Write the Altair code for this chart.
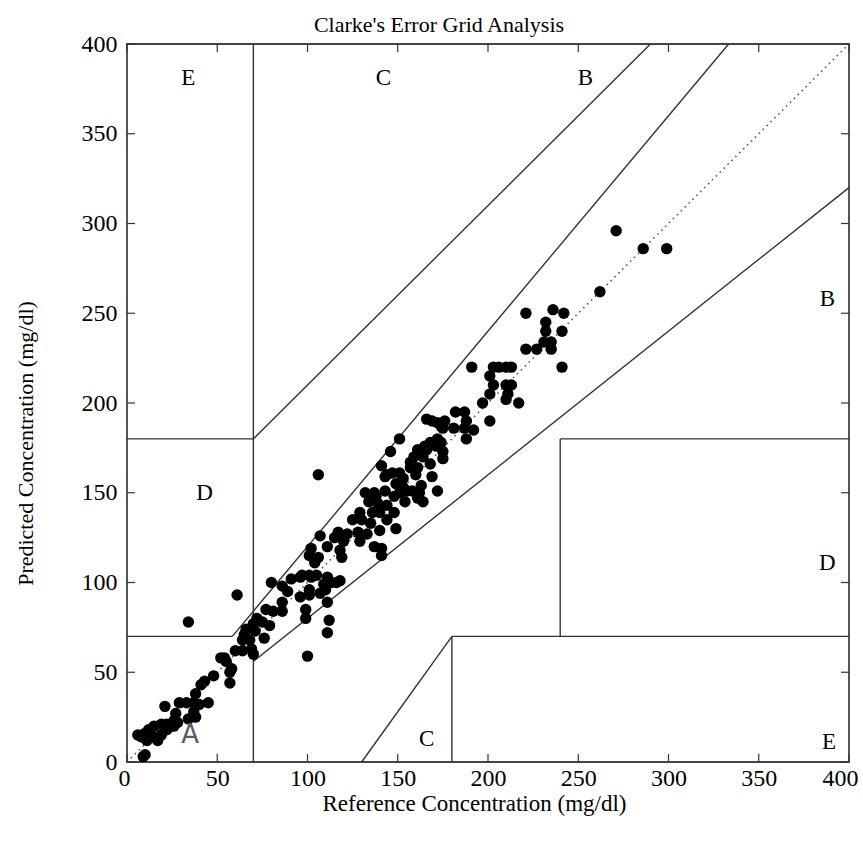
import altair as alt
import pandas as pd

# ---- data ----
ref_vals = [271,286,299,262,221,236,242,232,232,241,231,235,221,227,235,241,191,203,206,210,213,
            201,203,210,213,201,211,210,217,197,201,182,187,176,188,175,181,187,192,188,166,172,172,168,174,
            151,165,171,146,161,159,164,175,175,141,157,161,168,147,151,143,153,149,153,163,132,137,143,151,
            158,162,106,144,138,148,134,139,144,129,136,140,125,130,144,135,149,117,122,128,133,140,107,115,
            120,129,102,111,118,137,141,101,119,106,141,91,97,102,111,118,113,61,80,86,96,101,105,104,116,
            89,96,101,107,86,111,77,81,86,99,99,112,111,72,70,75,79,66,71,76,65,64,68,60,64,69,70,54,52,55,
            58,100,57,57,48,43,41,38,45,40,21,29,33,37,27,37,34,38,26,15,19,22,26,28,13,19,8,11,17,10,14,6,
            12,22,24,9,10,34,109,110,101,169,174,157,166,160,169,172,161,164,155,154,148]
pred_vals = [296,286,286,262,250,252,250,245,240,240,234,234,230,230,230,220,220,220,220,220,220,
             215,210,210,210,205,205,202,200,200,190,195,195,190,190,186,186,186,185,180,191,189,180,178,178,
             180,176,176,173,174,170,170,173,169,165,164,164,166,161,161,159,158,155,153,154,150,150,151,150,
             151,150,160,160,148,148,145,144,143,139,139,139,135,135,135,133,130,128,127,128,127,129,126,125,
             123,123,119,120,118,120,119,115,114,114,115,102,104,103,103,101,100,93,100,98,103,104,104,111,100,
             95,92,93,94,89,89,85,84,84,85,80,79,72,80,77,78,76,74,73,69,71,68,68,62,62,63,60,58,58,56,
             52,59,50,44,48,45,43,38,33,32,31,33,33,33,27,28,24,25,23,20,21,21,20,22,17,15,14,12,12,16,14,15,
             18,18,20,3,4,78,99,96,96,190,187,167,174,160,159,151,147,145,151,145,139]

seg_x1 = [0, 175/3, 70, 0, 70, 70, 180, 180, 240, 240, 130]
seg_y1 = [70, 70, 0, 180, 180, 56, 0, 70, 70, 180, 0]
seg_x2 = [175/3, 400/1.2, 70, 70, 290, 400, 180, 400, 240, 400, 180]
seg_y2 = [70, 400, 400, 180, 400, 320, 70, 70, 180, 180, 70]

zone_labels = ["E", "C", "B", "B", "D", "D", "C", "E"]
zone_x = [34, 142, 254, 388, 43, 388, 166, 389]
zone_y = [381, 381, 381, 258, 150, 111, 13, 11]

a_label = ["A"]
a_x = [35]
a_y = [15]

tick_vals = [0, 50, 100, 150, 200, 250, 300, 350, 400]
diag = [0, 400]

# ---- chart ----
W, H = 722, 718
FONT = "Liberation Serif"
LC = "#333333"
XT = "Reference Concentration (mg/dl)"
YT = "Predicted Concentration (mg/dl)"

xs = alt.Scale(domain=[0, 400], nice=False, zero=True)
ys = alt.Scale(domain=[0, 400], nice=False, zero=True)

pts = pd.DataFrame({"ref": ref_vals, "pred": pred_vals})
segs = pd.DataFrame({"x1": seg_x1, "y1": seg_y1, "x2": seg_x2, "y2": seg_y2})
zones = pd.DataFrame({"lab": zone_labels, "x": zone_x, "y": zone_y})
adf = pd.DataFrame({"lab": a_label, "x": a_x, "y": a_y})
ticks = pd.DataFrame({"v": tick_vals})
ddf = pd.DataFrame({"d": diag})

xaxis = alt.Axis(values=tick_vals, tickSize=0, domain=False, grid=False,
                 labelFont=FONT, labelFontSize=24, labelColor="black", labelPadding=4,
                 labelFlush=True, labelFlushOffset=9,
                 titleFont=FONT, titleFontSize=23, titleFontWeight="normal", titleColor="black",
                 titleX=347, titleY=41, titleAlign="center", titleBaseline="middle")
yaxis = alt.Axis(values=tick_vals, tickSize=0, domain=False, grid=False,
                 labelFont=FONT, labelFontSize=24, labelColor="black", labelPadding=10,
                 labelFlush=False,
                 titleFont=FONT, titleFontSize=22, titleFontWeight="normal", titleColor="black",
                 titleX=-102, titleY=399, titleAngle=270, titleAlign="center", titleBaseline="middle")


def X(f):
    return alt.X(f, scale=xs, axis=xaxis, title=XT)


def Y(f):
    return alt.Y(f, scale=ys, axis=yaxis, title=YT)


points = alt.Chart(pts).mark_circle(size=130, color="black", opacity=1).encode(
    x=X("ref:Q"), y=Y("pred:Q"))

diag_line = alt.Chart(ddf).mark_line(color="#555555", strokeDash=[1.5, 4], strokeWidth=1.6).encode(
    x=X("d:Q"), y=Y("d:Q"))

lines = alt.Chart(segs).mark_rule(color=LC, strokeWidth=1.4).encode(
    x=X("x1:Q"), y=Y("y1:Q"), x2="x2:Q", y2="y2:Q")

zone_text = alt.Chart(zones).mark_text(font=FONT, fontSize=23, color="black",
                                       align="center", baseline="middle").encode(
    x=X("x:Q"), y=Y("y:Q"), text="lab:N")

a_text = alt.Chart(adf).mark_text(font="DejaVu Sans", fontSize=26, color="#5a5a5a",
                                  align="center", baseline="middle").encode(
    x=X("x:Q"), y=Y("y:Q"), text="lab:N")

tick_bottom = alt.Chart(ticks).mark_rule(color=LC, strokeWidth=1.2).encode(
    x=X("v:Q"), y=alt.value(H), y2=alt.value(H - 8))
tick_top = alt.Chart(ticks).mark_rule(color=LC, strokeWidth=1.2).encode(
    x=X("v:Q"), y=alt.value(0), y2=alt.value(8))
tick_left = alt.Chart(ticks).mark_rule(color=LC, strokeWidth=1.2).encode(
    y=Y("v:Q"), x=alt.value(0), x2=alt.value(8))
tick_right = alt.Chart(ticks).mark_rule(color=LC, strokeWidth=1.2).encode(
    y=Y("v:Q"), x=alt.value(W), x2=alt.value(W - 8))

chart = alt.layer(
    diag_line, lines, tick_bottom, tick_top, tick_left, tick_right, points, zone_text, a_text
).properties(
    width=W, height=H,
    autosize=alt.AutoSizeParams(type="none"),
    padding={"left": 127, "top": 44, "right": 14, "bottom": 80},
    title=alt.TitleParams("Clarke's Error Grid Analysis", font=FONT, fontSize=22,
                          fontWeight="normal", color="black", anchor="middle",
                          dx=-49, offset=-5),
    background="white",
).configure_view(stroke="#444444", strokeWidth=1.8)

chart.save("out.html", embed_options={"renderer": "svg", "actions": False})
